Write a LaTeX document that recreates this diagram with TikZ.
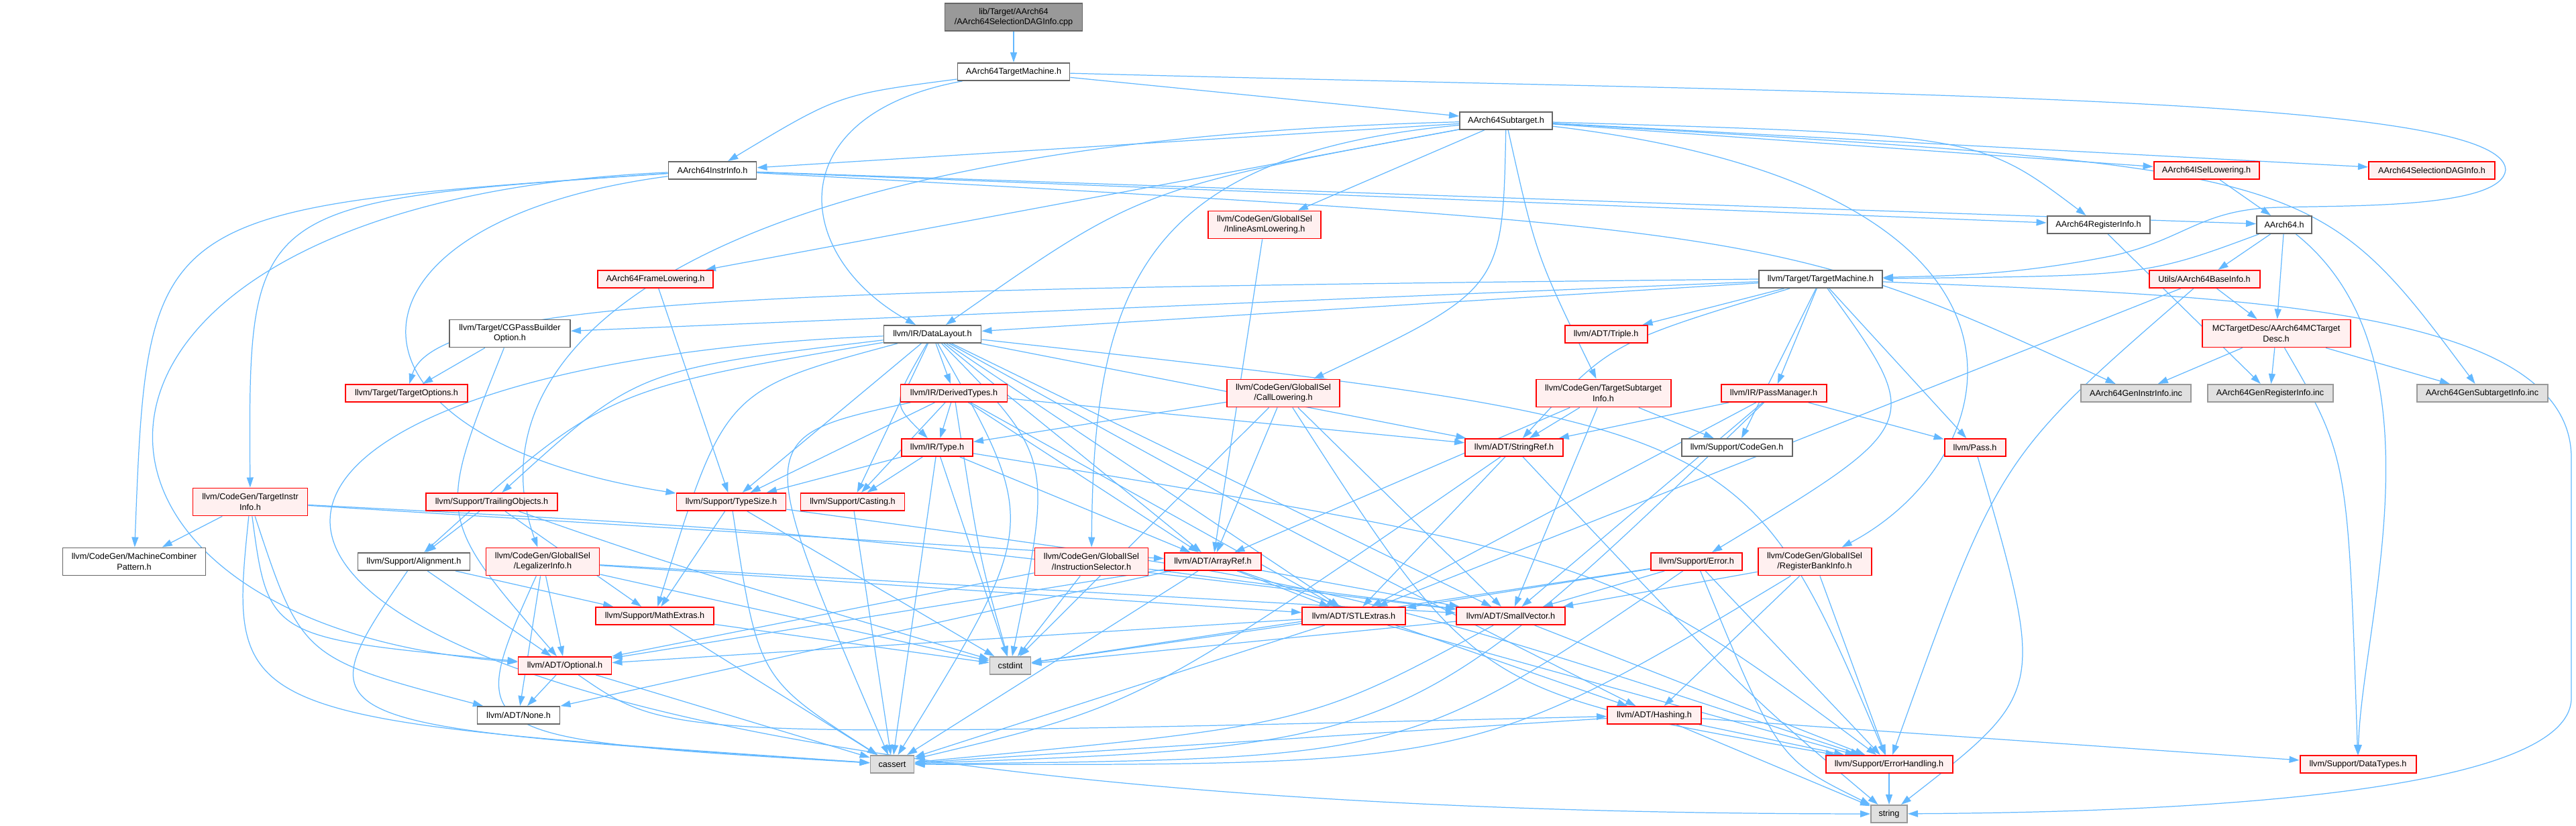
\documentclass[tikz,border=0pt]{standalone}
\usepackage{fontspec}
\setmainfont{Liberation Sans}
\usetikzlibrary{arrows.meta,backgrounds}
\definecolor{dgblue}{HTML}{63B8FF}
\definecolor{dgredfill}{HTML}{FFF0F0}
\definecolor{dgsysfill}{HTML}{E0E0E0}
\tikzset{
  dgbox/.style={rectangle, draw=black!60, fill=white, line width=0.55pt, inner sep=0pt, minimum height=0.26cm, align=center, font=\fontsize{3.6}{4.3}\selectfont},
  dgred/.style={dgbox, draw=red, fill=dgredfill},
  dgsys/.style={dgbox, draw=black!40, fill=dgsysfill},
  dgroot/.style={dgbox, fill=black!40},
  dgtwo/.style={minimum height=0.41cm},
  dgedge/.style={draw=dgblue, line width=0.35pt, -{Triangle[length=1.5mm,width=1mm]}},
}

\begin{document}
\begin{tikzpicture}
\useasboundingbox (0,0) rectangle (38.40,12.31);
% files
\node[dgroot, dgtwo, minimum width=2.05cm] (root) at (15.11,12.055) {lib/Target/AArch64\\/AArch64SelectionDAGInfo.cpp};
\node[dgbox, minimum width=1.67cm] (tmach) at (15.11,11.24) {AArch64TargetMachine.h};
\node[dgbox, minimum width=1.31cm] (instr) at (10.62,9.77) {AArch64InstrInfo.h};
\node[dgbox, minimum width=1.38cm] (subt) at (22.45,10.51) {AArch64Subtarget.h};
\node[dgred, minimum width=1.72cm] (frame) at (9.77,8.15) {AArch64FrameLowering.h};
\node[dgred, minimum width=1.57cm] (isel) at (32.89,9.77) {AArch64ISelLowering.h};
\node[dgred, minimum width=1.88cm] (sdag) at (36.25,9.77) {AArch64SelectionDAGInfo.h};
\node[dgbox, minimum width=1.53cm] (reginfo) at (31.28,8.96) {AArch64RegisterInfo.h};
\node[dgbox, minimum width=0.82cm] (aarch) at (34.05,8.96) {AArch64.h};
\node[dgred, dgtwo, minimum width=1.68cm] (inline) at (18.85,8.96) {llvm/CodeGen/GlobalISel\\/InlineAsmLowering.h};
\node[dgbox, minimum width=1.84cm] (tm) at (27.14,8.15) {llvm/Target/TargetMachine.h};
\node[dgred, minimum width=1.65cm] (baseinfo) at (32.86,8.15) {Utils/AArch64BaseInfo.h};
\node[dgbox, dgtwo, minimum width=1.80cm] (cgpass) at (7.60,7.34) {llvm/Target/CGPassBuilder\\Option.h};
\node[dgbox, minimum width=1.45cm] (datalayout) at (13.90,7.33) {llvm/IR/DataLayout.h};
\node[dgred, minimum width=1.23cm] (triple) at (23.94,7.33) {llvm/ADT/Triple.h};
\node[dgred, dgtwo, minimum width=2.21cm] (mcdesc) at (33.93,7.34) {MCTargetDesc/AArch64MCTarget\\Desc.h};
\node[dgred, minimum width=1.82cm] (topts) at (6.06,6.45) {llvm/Target/TargetOptions.h};
\node[dgred, minimum width=1.59cm] (derived) at (14.22,6.45) {llvm/IR/DerivedTypes.h};
\node[dgred, dgtwo, minimum width=1.68cm] (calllow) at (19.13,6.45) {llvm/CodeGen/GlobalISel\\/CallLowering.h};
\node[dgred, dgtwo, minimum width=2.01cm] (tsubinfo) at (23.90,6.45) {llvm/CodeGen/TargetSubtarget\\Info.h};
\node[dgred, minimum width=1.57cm] (passmgr) at (26.44,6.45) {llvm/IR/PassManager.h};
\node[dgsys, minimum width=1.64cm] (geninstr) at (31.84,6.45) {AArch64GenInstrInfo.inc};
\node[dgsys, minimum width=1.87cm] (genreg) at (33.84,6.45) {AArch64GenRegisterInfo.inc};
\node[dgsys, minimum width=1.95cm] (gensub) at (37.00,6.45) {AArch64GenSubtargetInfo.inc};
\node[dgred, minimum width=1.06cm] (irtype) at (13.97,5.64) {llvm/IR/Type.h};
\node[dgred, minimum width=1.46cm] (strref) at (22.57,5.64) {llvm/ADT/StringRef.h};
\node[dgbox, minimum width=1.65cm] (codegen) at (25.89,5.64) {llvm/Support/CodeGen.h};
\node[dgred, minimum width=0.91cm] (pass) at (29.44,5.64) {llvm/Pass.h};
\node[dgred, dgtwo, minimum width=1.71cm] (tinstr) at (3.73,4.83) {llvm/CodeGen/TargetInstr\\Info.h};
\node[dgred, minimum width=1.96cm] (trailing) at (7.33,4.83) {llvm/Support/TrailingObjects.h};
\node[dgred, minimum width=1.63cm] (typesize) at (10.90,4.83) {llvm/Support/TypeSize.h};
\node[dgred, minimum width=1.55cm] (casting) at (12.71,4.83) {llvm/Support/Casting.h};
\node[dgbox, dgtwo, minimum width=2.13cm] (mcpat) at (2.00,3.94) {llvm/CodeGen/MachineCombiner\\Pattern.h};
\node[dgbox, minimum width=1.67cm] (align) at (6.17,3.94) {llvm/Support/Alignment.h};
\node[dgred, dgtwo, minimum width=1.69cm] (legal) at (8.09,3.94) {llvm/CodeGen/GlobalISel\\/LegalizerInfo.h};
\node[dgred, dgtwo, minimum width=1.69cm] (instsel) at (16.27,3.94) {llvm/CodeGen/GlobalISel\\/InstructionSelector.h};
\node[dgred, minimum width=1.44cm] (arrayref) at (18.08,3.94) {llvm/ADT/ArrayRef.h};
\node[dgred, minimum width=1.36cm] (error) at (25.29,3.94) {llvm/Support/Error.h};
\node[dgred, dgtwo, minimum width=1.69cm] (rbinfo) at (27.05,3.94) {llvm/CodeGen/GlobalISel\\/RegisterBankInfo.h};
\node[dgred, minimum width=1.76cm] (mathext) at (9.76,3.13) {llvm/Support/MathExtras.h};
\node[dgred, minimum width=1.54cm] (stlext) at (20.18,3.13) {llvm/ADT/STLExtras.h};
\node[dgred, minimum width=1.62cm] (smallvec) at (22.52,3.13) {llvm/ADT/SmallVector.h};
\node[dgred, minimum width=1.39cm] (optional) at (8.42,2.39) {llvm/ADT/Optional.h};
\node[dgsys, minimum width=0.61cm] (cstdint) at (15.06,2.39) {cstdint};
\node[dgbox, minimum width=1.23cm] (none) at (7.73,1.65) {llvm/ADT/None.h};
\node[dgred, minimum width=1.40cm] (hashing) at (24.66,1.65) {llvm/ADT/Hashing.h};
\node[dgsys, minimum width=0.65cm] (cassert) at (13.30,0.92) {cassert};
\node[dgred, minimum width=1.89cm] (errh) at (28.16,0.92) {llvm/Support/ErrorHandling.h};
\node[dgred, minimum width=1.73cm] (datatypes) at (35.15,0.92) {llvm/Support/DataTypes.h};
\node[dgsys, minimum width=0.54cm] (str) at (28.16,0.18) {string};
% includes
\begin{pgfonlayer}{background}
\draw[dgedge] (root) -- (tmach);
\draw[dgedge] (tmach) .. controls (12.5,10.9) .. (instr);
\draw[dgedge] (tmach) -- (subt);
\draw[dgedge] (tmach) .. controls (11.6,10.6) and (11.8,8.5) .. (datalayout);
\draw[dgedge] (tmach) .. controls (28.0,10.9) and (37.3,10.9) .. (37.35,9.78) .. controls (37.3,9.2) and (35.0,9.25) .. (34.0,9.22) .. controls (32.8,9.2) and (32.6,8.75) .. (31.5,8.5) .. controls (30.0,8.2) and (29.0,8.2) .. (tm);
\draw[dgedge] (instr) -- (aarch);
\draw[dgedge] (instr) -- (reginfo);
\draw[dgedge] (instr) .. controls (26.5,8.9) .. (geninstr);
\draw[dgedge] (instr) .. controls (2.2,9.2) .. (mcpat);
\draw[dgedge] (instr) .. controls (3.7,9.3) .. (tinstr);
\draw[dgedge] (instr) .. controls (4.8,9.0) and (4.7,5.8) .. (typesize);
\draw[dgedge] (instr) .. controls (0.1,9.3) and (0.2,3.0) .. (optional);
\draw[dgedge] (subt) -- (instr);
\draw[dgedge] (subt) -- (frame);
\draw[dgedge] (subt) -- (isel);
\draw[dgedge] (subt) .. controls (29.5,10.3) .. (reginfo);
\draw[dgedge] (subt) -- (sdag);
\draw[dgedge] (subt) .. controls (22.4,8.0) .. (calllow);
\draw[dgedge] (subt) -- (inline);
\draw[dgedge] (subt) .. controls (17.0,10.0) and (16.3,8.0) .. (instsel);
\draw[dgedge] (subt) .. controls (10.0,10.2) and (7.0,7.0) .. (legal);
\draw[dgedge] (subt) .. controls (31.0,9.5) and (30.0,5.5) .. (rbinfo);
\draw[dgedge] (subt) .. controls (22.9,8.5) .. (tsubinfo);
\draw[dgedge] (subt) .. controls (17.0,9.5) .. (datalayout);
\draw[dgedge] (subt) .. controls (34.5,9.8) .. (gensub);
\draw[dgedge] (isel) -- (aarch);
\draw[dgedge] (reginfo) -- (genreg);
\draw[dgedge] (aarch) -- (baseinfo);
\draw[dgedge] (aarch) -- (mcdesc);
\draw[dgedge] (aarch) .. controls (36.5,7.0) and (35.2,3.0) .. (datatypes);
\draw[dgedge] (aarch) .. controls (32.0,8.2) .. (tm);
\draw[dgedge] (baseinfo) -- (mcdesc);
\draw[dgedge] (baseinfo) -- (stlext);
\draw[dgedge] (baseinfo) .. controls (29.8,5.5) .. (errh);
\draw[dgedge] (mcdesc) -- (geninstr);
\draw[dgedge] (mcdesc) -- (genreg);
\draw[dgedge] (mcdesc) -- (gensub);
\draw[dgedge] (mcdesc) .. controls (35.0,5.5) .. (datatypes);
\draw[dgedge] (frame) -- (typesize);
\draw[dgedge] (inline) -- (arrayref);
\draw[dgedge] (tm) -- (triple);
\draw[dgedge] (tm) .. controls (24.0,7.2) .. (strref);
\draw[dgedge] (tm) -- (passmgr);
\draw[dgedge] (tm) -- (codegen);
\draw[dgedge] (tm) .. controls (28.7,6.0) .. (error);
\draw[dgedge] (tm) -- (pass);
\draw[dgedge] (tm) .. controls (33.0,7.9) and (38.3,7.8) .. (38.33,5.5) -- (38.33,1.9) .. controls (38.3,0.3) and (31.0,0.2) .. (str);
\draw[dgedge] (tm) -- (datalayout);
\draw[dgedge] (tm) -- (cgpass);
\draw[dgedge] (tm.west) .. controls (12.0,8.0) and (6.5,7.9) .. (topts);
\draw[dgedge] (cgpass) -- (topts);
\draw[dgedge] (cgpass) .. controls (6.5,4.6) .. (optional);
\draw[dgedge] (datalayout) -- (derived);
\draw[dgedge] (datalayout) .. controls (13.3,6.3) .. (irtype);
\draw[dgedge] (datalayout) -- (typesize);
\draw[dgedge] (datalayout) -- (casting);
\draw[dgedge] (datalayout) -- (arrayref);
\draw[dgedge] (datalayout) .. controls (19.0,4.5) .. (hashing);
\draw[dgedge] (datalayout) -- (strref);
\draw[dgedge] (datalayout) -- (smallvec);
\draw[dgedge] (datalayout) -- (stlext);
\draw[dgedge] (datalayout) .. controls (9.0,6.5) .. (align);
\draw[dgedge] (datalayout) .. controls (26.0,6.0) .. (errh);
\draw[dgedge] (datalayout) .. controls (10.8,6.5) .. (mathext);
\draw[dgedge] (datalayout) .. controls (9.5,6.8) .. (trailing);
\draw[dgedge] (datalayout) .. controls (15.5,4.5) .. (cassert);
\draw[dgedge] (datalayout) .. controls (15.7,5.5) .. (cstdint);
\draw[dgedge] (datalayout) .. controls (0.3,6.8) and (0.6,0.2) .. (str);
\draw[dgedge] (derived) -- (irtype);
\draw[dgedge] (derived) -- (typesize);
\draw[dgedge] (derived) -- (casting);
\draw[dgedge] (derived) -- (arrayref);
\draw[dgedge] (derived) -- (stlext);
\draw[dgedge] (derived) -- (strref);
\draw[dgedge] (derived) .. controls (11.2,5.8) .. (cassert);
\draw[dgedge] (derived) .. controls (14.6,4.0) .. (cstdint);
\draw[dgedge] (irtype) -- (typesize);
\draw[dgedge] (irtype) -- (casting);
\draw[dgedge] (irtype) -- (arrayref);
\draw[dgedge] (irtype) .. controls (24.0,4.0) .. (errh);
\draw[dgedge] (irtype) -- (cassert);
\draw[dgedge] (irtype) -- (cstdint);
\draw[dgedge] (calllow) -- (irtype);
\draw[dgedge] (calllow) -- (arrayref);
\draw[dgedge] (calllow) -- (smallvec);
\draw[dgedge] (calllow) -- (cstdint);
\draw[dgedge] (calllow) .. controls (22.0,2.0) .. (errh);
\draw[dgedge] (tsubinfo) -- (strref);
\draw[dgedge] (tsubinfo) -- (codegen);
\draw[dgedge] (tsubinfo) -- (arrayref);
\draw[dgedge] (tsubinfo) -- (smallvec);
\draw[dgedge] (passmgr) -- (strref);
\draw[dgedge] (passmgr) -- (stlext);
\draw[dgedge] (passmgr) -- (smallvec);
\draw[dgedge] (passmgr) -- (pass);
\draw[dgedge] (passmgr) .. controls (21.0,1.2) .. (cassert);
\draw[dgedge] (typesize) -- (mathext);
\draw[dgedge] (typesize) .. controls (20.0,3.6) .. (errh);
\draw[dgedge] (typesize) .. controls (11.3,2.2) .. (cassert);
\draw[dgedge] (typesize) -- (cstdint);
\draw[dgedge] (casting) -- (cassert);
\draw[dgedge] (trailing) -- (align);
\draw[dgedge] (trailing) -- (mathext);
\draw[dgedge] (trailing) .. controls (10.0,3.9) .. (cstdint);
\draw[dgedge] (align) -- (mathext);
\draw[dgedge] (align) -- (optional);
\draw[dgedge] (align) .. controls (4.5,1.5) .. (cassert);
\draw[dgedge] (legal) -- (optional);
\draw[dgedge] (legal) -- (none);
\draw[dgedge] (legal) -- (smallvec);
\draw[dgedge] (legal) -- (stlext);
\draw[dgedge] (legal) .. controls (6.9,1.3) .. (cassert);
\draw[dgedge] (legal) -- (cstdint);
\draw[dgedge] (tinstr) -- (mcpat);
\draw[dgedge] (tinstr) -- (arrayref);
\draw[dgedge] (tinstr) .. controls (12.0,4.4) .. (smallvec);
\draw[dgedge] (tinstr) .. controls (4.0,2.8) .. (optional);
\draw[dgedge] (tinstr) .. controls (4.5,2.5) .. (none);
\draw[dgedge] (tinstr) .. controls (3.4,1.6) .. (cassert);
\draw[dgedge] (mathext) -- (cassert);
\draw[dgedge] (mathext) -- (cstdint);
\draw[dgedge] (optional) -- (none);
\draw[dgedge] (optional) .. controls (10.0,1.3) .. (hashing);
\draw[dgedge] (optional) -- (cassert);
\draw[dgedge] (instsel) -- (optional);
\draw[dgedge] (instsel) -- (smallvec);
\draw[dgedge] (instsel) -- (cstdint);
\draw[dgedge] (arrayref) -- (hashing);
\draw[dgedge] (arrayref) -- (none);
\draw[dgedge] (arrayref) -- (optional);
\draw[dgedge] (arrayref) -- (smallvec);
\draw[dgedge] (arrayref) -- (stlext);
\draw[dgedge] (arrayref) -- (cassert);
\draw[dgedge] (strref) -- (stlext);
\draw[dgedge] (strref) .. controls (17.0,1.8) .. (cassert);
\draw[dgedge] (strref) .. controls (26.0,2.0) .. (str);
\draw[dgedge] (stlext) -- (optional);
\draw[dgedge] (stlext) -- (errh);
\draw[dgedge] (stlext) -- (cassert);
\draw[dgedge] (stlext) -- (cstdint);
\draw[dgedge] (smallvec) .. controls (19.5,1.5) .. (cassert);
\draw[dgedge] (smallvec) -- (cstdint);
\draw[dgedge] (smallvec) -- (errh);
\draw[dgedge] (error) -- (stlext);
\draw[dgedge] (error) -- (smallvec);
\draw[dgedge] (error) .. controls (21.0,1.0) .. (cassert);
\draw[dgedge] (error) -- (errh);
\draw[dgedge] (error) .. controls (26.5,1.0) .. (str);
\draw[dgedge] (error) -- (cstdint);
\draw[dgedge] (rbinfo) -- (smallvec);
\draw[dgedge] (rbinfo) -- (hashing);
\draw[dgedge] (rbinfo) -- (errh);
\draw[dgedge] (rbinfo) .. controls (22.0,0.9) .. (cassert);
\draw[dgedge] (hashing) -- (errh);
\draw[dgedge] (hashing) -- (datatypes);
\draw[dgedge] (hashing) -- (str);
\draw[dgedge] (hashing) -- (cassert);
\draw[dgedge] (errh) -- (str);
\draw[dgedge] (pass) .. controls (30.5,2.0) .. (str);
\end{pgfonlayer}
\end{tikzpicture}
\end{document}
